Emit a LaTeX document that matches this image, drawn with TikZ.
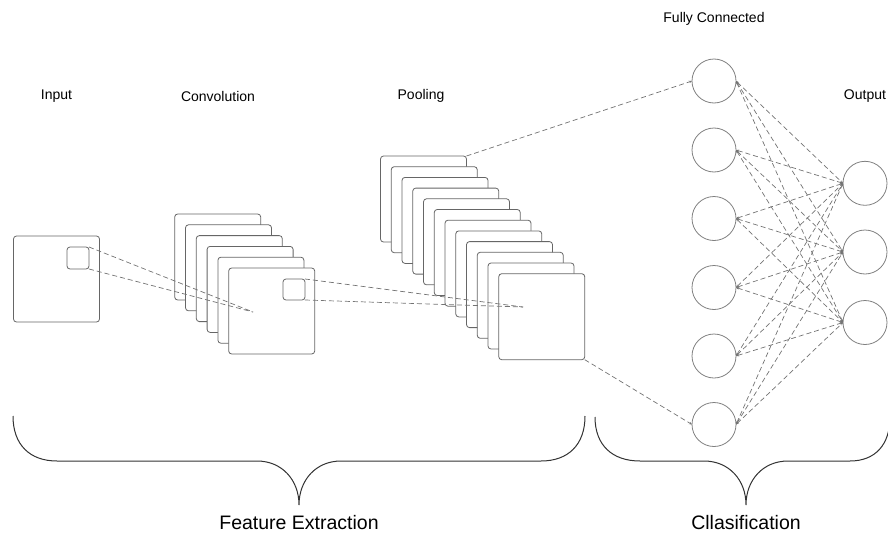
\documentclass[tikz,border=0pt]{standalone}
\usepackage{fontspec}
\setmainfont{Liberation Sans}
\usetikzlibrary{arrows.meta}
\begin{document}
\begin{tikzpicture}[x=1pt,y=-1pt,
  fmap/.style={draw=black!60, fill=white, line width=0.8pt, rounded corners=3pt,
    minimum width=86pt, minimum height=86pt, inner sep=0pt, outer sep=0pt},
  kernel/.style={draw=black!60, fill=white, line width=0.8pt, rounded corners=3pt,
    minimum width=22pt, minimum height=22pt, inner sep=0pt, outer sep=0pt},
  neuron/.style={circle, draw=black!50, line width=0.8pt, minimum size=44pt,
    inner sep=0pt, outer sep=0pt},
  link/.style={draw=black!55, line width=0.7pt, dash pattern=on 5pt off 3pt},
  tiny tips/.style={{Stealth[length=3pt,width=2.5pt]}-{Stealth[length=3pt,width=2.5pt]}},
  lbl/.style={font=\fontsize{14}{16}\selectfont, inner sep=0pt},
  biglbl/.style={font=\fontsize{19.5}{22}\selectfont, inner sep=0pt, anchor=base},
  brace/.style={draw=black!80, line width=1pt}]
\useasboundingbox (0,0) rectangle (888,535);

% layer captions
\node[lbl] (tIn)   at (56.5,96)  {Input};
\node[lbl] (tConv) at (218,96)   {Convolution};
\node[lbl] (tPool) at (421,96)   {Pooling};
\node[lbl] (tFC)   at (714,19)   {Fully Connected};
\node[lbl] (tOut)  at (865,96)   {Output};

% input image with its receptive field
\node[fmap] (in) at (56.5,279) {};
\node[kernel] (kin) at (78,258) {};

% convolution feature maps, back to front
\foreach \i in {0,...,5}
  \node[fmap] (conv\i) at ({217.7+10.8*\i},{257+10.8*\i}) {};
\node[kernel, minimum height=21pt] (kconv) at (294,289.5) {};

% input window projected onto the convolution map
\coordinate (pc) at (253,312);
\draw[link] (kin.north east) -- (pc);
\draw[link] (kin.south east) -- (pc);

% pooling feature maps, back to front
\foreach \i in {0,...,11}
  \node[fmap] (pool\i) at ({423.5+10.75*\i},{199+10.7*\i}) {};

% convolution window projected onto the pooling map
\coordinate (pp) at (523,307);
\draw[link] (kconv.north east) -- (pp);
\draw[link] (kconv.south east) -- (pp);

% fully connected layer
\foreach \i/\y in {1/81,2/150,3/218.5,4/287.5,5/356,6/424.5}
  \node[neuron] (fc\i) at (714,\y) {};

% output layer
\foreach \j/\y in {1/183.3,2/252,3/322.5}
  \node[neuron] (out\j) at (865,\y) {};

% pooling maps flattened into the dense layer
\draw[link, -{Stealth[length=3pt,width=2.5pt]}] (pool0.north east) -- (fc1.west);
\draw[link, -{Stealth[length=3pt,width=2.5pt]}] (pool11.south east) -- (fc6.west);

% dense connections
\foreach \i in {1,...,6}
  \foreach \j in {1,2,3}
    \draw[link, tiny tips] (fc\i.east) -- (out\j.west);

% grouping braces
\draw[brace] (13,416) .. controls (13,445) and (30,461) .. (57,461) -- (257,461)
  .. controls (282,461) and (299,480) .. (299,505)
  .. controls (299,480) and (316,461) .. (341,461) -- (541,461)
  .. controls (568,461) and (585,445) .. (585,416);
\draw[brace] (595,417) .. controls (595,445) and (612,461) .. (640,461) -- (704,461)
  .. controls (729,461) and (746,480) .. (746,505)
  .. controls (746,480) and (763,461) .. (788,461) -- (850,461)
  .. controls (875,461) and (890,445) .. (890,417);

\node[biglbl] (tFE) at (299,529) {Feature Extraction};
\node[biglbl] (tCl) at (746,529) {Cllasification};
\end{tikzpicture}
\end{document}
